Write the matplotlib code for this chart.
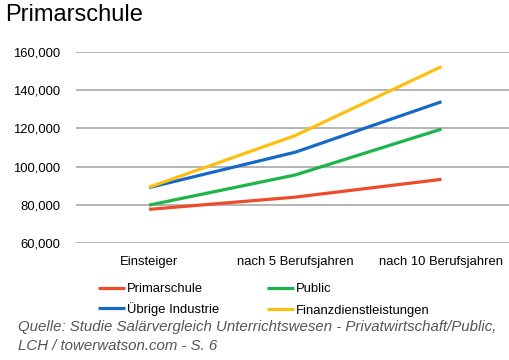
import matplotlib.pyplot as plt
from matplotlib.ticker import FuncFormatter

plt.rcParams['font.family'] = ['Liberation Sans', 'DejaVu Sans']

categories = ['Einsteiger', 'nach 5 Berufsjahren', 'nach 10 Berufsjahren']
primarschule = [77600, 84000, 93300]
public = [79800, 95600, 119600]
uebrige = [89000, 107500, 133900]
finanz = [89200, 116200, 152300]
yticks = [60000, 80000, 100000, 120000, 140000, 160000]

fig = plt.figure(figsize=(5.1, 3.6), dpi=100)
ax = fig.add_axes([0.149, 0.325, 0.86, 0.531])

x = range(len(categories))
l1, = ax.plot(x, primarschule, color='#ee4b2b', lw=2.3, label='Primarschule', solid_capstyle='butt')
l2, = ax.plot(x, public, color='#1db44b', lw=2.3, label='Public', solid_capstyle='butt')
l3, = ax.plot(x, uebrige, color='#1669c4', lw=2.3, label='Übrige Industrie', solid_capstyle='butt')
l4, = ax.plot(x, finanz, color='#fdbf0f', lw=2.3, label='Finanzdienstleistungen', solid_capstyle='butt')

ax.set_xlim(-0.5, 2.5)
ax.set_ylim(60000, 160000)
ax.set_yticks(yticks)
ax.yaxis.set_major_formatter(FuncFormatter(lambda v, p: f'{int(v):,}'))
ax.set_xticks(list(x))
ax.set_xticklabels(categories)
ax.tick_params(axis='y', length=0, pad=11.5, labelsize=9.4)
ax.tick_params(axis='x', length=0, pad=9, labelsize=9.4)
ax.grid(axis='y', color='#b4b4b4', lw=1.4)
ax.set_axisbelow(True)
for s in ax.spines.values():
    s.set_visible(False)

# two one-column legends; the left one gets less spacing because "Ü" is taller
leg_kw = dict(loc='upper left', frameon=False, fontsize=9.4, handlelength=2.1,
              handletextpad=0.15, borderaxespad=0, borderpad=0)
leg1 = fig.legend([l1, l3], ['Primarschule', 'Übrige Industrie'],
                  bbox_to_anchor=(0.192, 0.213), labelspacing=0.49, **leg_kw)
fig.legend([l2, l4], ['Public', 'Finanzdienstleistungen'],
           bbox_to_anchor=(0.5235, 0.213), labelspacing=0.72, **leg_kw)

fig.text(0.01, 0.958, 'Primarschule', fontsize=17, va='center', ha='left')
fig.text(0.035, 0.02, 'Quelle: Studie Salärvergleich Unterrichtswesen - Privatwirtschaft/Public,\nLCH / towerwatson.com - S. 6',
         fontsize=10.8, style='italic', color='#555555', ha='left', va='bottom', linespacing=1.4)

fig.savefig('out.png', dpi=100)
